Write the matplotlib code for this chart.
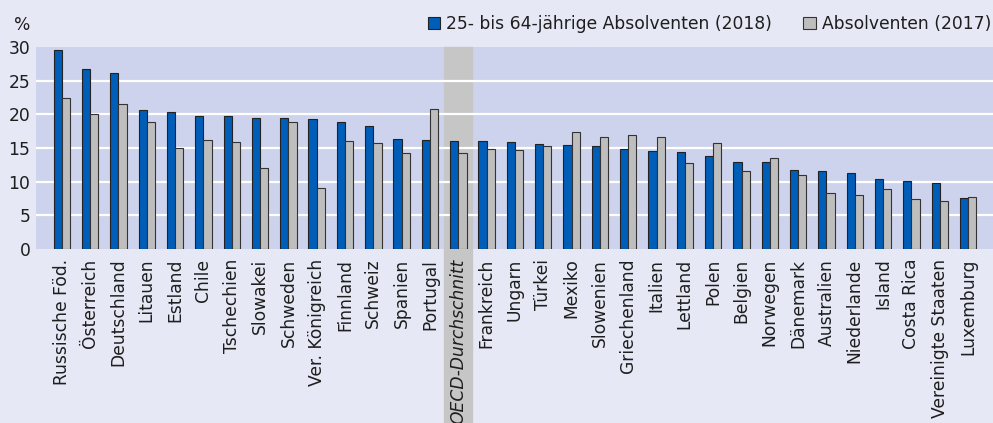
import matplotlib
import matplotlib.pyplot as plt
from matplotlib.patches import Rectangle
import matplotlib.transforms as mtransforms
import numpy as np

matplotlib.use('Agg')

countries = ['Russische Föd.', 'Österreich', 'Deutschland', 'Litauen', 'Estland', 'Chile',
             'Tschechien', 'Slowakei', 'Schweden', 'Ver. Königreich', 'Finnland', 'Schweiz',
             'Spanien', 'Portugal', 'OECD-Durchschnitt', 'Frankreich', 'Ungarn', 'Türkei',
             'Mexiko', 'Slowenien', 'Griechenland', 'Italien', 'Lettland', 'Polen', 'Belgien',
             'Norwegen', 'Dänemark', 'Australien', 'Niederlande', 'Island', 'Costa Rica',
             'Vereinigte Staaten', 'Luxemburg']
grad_2018 = [29.5, 26.8, 26.2, 20.6, 20.3, 19.8, 19.7, 19.45, 19.4, 19.25, 18.8, 18.2,
             16.3, 16.2, 16.1, 16.0, 15.85, 15.65, 15.45, 15.3, 14.8, 14.5, 14.45, 13.75,
             12.95, 12.85, 11.7, 11.6, 11.3, 10.45, 10.05, 9.75, 7.6]
grad_2017 = [22.5, 20.05, 21.6, 18.9, 14.95, 16.2, 15.9, 12.1, 18.8, 9.05, 16.1, 15.8,
             14.2, 20.8, 14.2, 14.8, 14.65, 15.25, 17.4, 16.6, 16.9, 16.6, 12.8, 15.8,
             11.6, 13.55, 10.95, 8.25, 8.05, 8.9, 7.5, 7.2, 7.7]
highlight = 'OECD-Durchschnitt'

fig_bg = '#E6E8F5'
ax_bg = '#CDD3EC'
blue = '#005EB8'
grey = '#BEBEBE'
txt = '#1E1E1E'
fs = 12.3

plt.rcParams['font.family'] = ['DejaVu Sans']

fig = plt.figure(figsize=(9.93, 4.23), dpi=100, facecolor=fig_bg)
ax = fig.add_axes([0.0363, 0.4113, 0.9637, 0.4776], facecolor=ax_bg)

x = np.arange(len(countries))
w = 0.29
ax.bar(x - w / 2, grad_2018, w, color=blue, edgecolor='#222222', linewidth=0.8, zorder=3,
       label='25- bis 64-jährige Absolventen (2018)')
ax.bar(x + w / 2, grad_2017, w, color=grey, edgecolor='#333333', linewidth=0.8, zorder=3,
       label='Absolventen (2017)')

# grey band behind the OECD average, running down through the labels
hi = countries.index(highlight)
trans = mtransforms.blended_transform_factory(ax.transData, ax.transAxes)
ax.add_patch(Rectangle((hi - 0.49, -0.87), 0.98, 1.87, transform=trans,
                       color='#C6C6C6', zorder=1, clip_on=False))

ax.set_ylim(0, 30)
ax.set_xlim(-0.91, 32.88)
ax.set_yticks([0, 5, 10, 15, 20, 25, 30])
for yv in [5, 10, 15, 20, 25]:
    ax.axhline(yv, color='white', linewidth=1.6, zorder=2)
for s in ax.spines.values():
    s.set_visible(False)

ax.set_xticks(x)
ax.set_xticklabels(countries, rotation=90, fontsize=fs, color=txt)
for lbl in ax.get_xticklabels():
    if lbl.get_text() == highlight:
        lbl.set_style('italic')
ax.tick_params(axis='both', length=0, labelsize=fs, labelcolor=txt)
ax.tick_params(axis='x', pad=7)
ax.tick_params(axis='y', pad=4)

fig.text(0.022, 0.94, '%', fontsize=fs, ha='center', va='center', color=txt)
leg = ax.legend(loc='lower right', bbox_to_anchor=(0.998, 1.07), ncol=2, frameon=False,
                fontsize=fs, handlelength=0.75, handleheight=0.75, handletextpad=0.35,
                columnspacing=1.8, borderaxespad=0, borderpad=0)
for t in leg.get_texts():
    t.set_color(txt)

fig.savefig('out.png', dpi=100, facecolor=fig_bg)
